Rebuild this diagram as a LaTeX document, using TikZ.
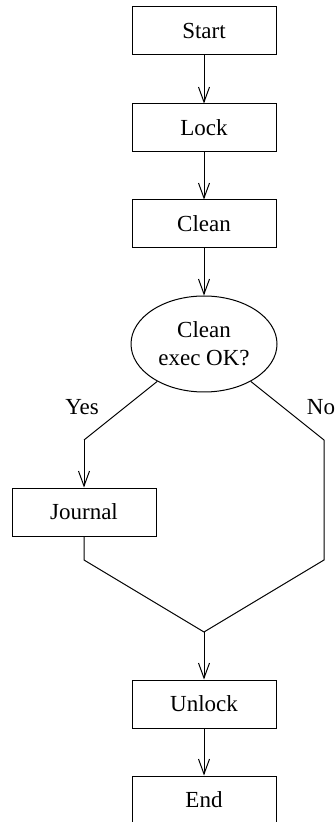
\documentclass[tikz,border=0pt]{standalone}
\usepackage{fontspec}
\setmainfont{Liberation Serif}
\usetikzlibrary{arrows.meta,shapes.geometric}

\begin{document}
\begin{tikzpicture}[x=0.5pt,y=-0.5pt,line width=0.5pt,
  font=\fontsize{11.5}{14}\selectfont,
  stepbox/.style={draw,rectangle,minimum width=72pt,minimum height=24pt,inner sep=0pt},
  testbox/.style={draw,ellipse,minimum width=73pt,minimum height=48pt,inner sep=0pt,align=center},
  flow/.style={-{Straight Barb[length=7.5pt,width=5.5pt]}}]
\useasboundingbox (0,0) rectangle (334,822);

\node[stepbox] (start) at (204,31) {Start};
\node[stepbox] (lock) at (204,128) {Lock};
\node[stepbox] (clean) at (204,224) {Clean};
\node[testbox] (check) at (204,344) {Clean\\exec OK?};
\node[stepbox] (journal) at (84,512) {Journal};
\node[stepbox] (unlock) at (204,704) {Unlock};
\node[stepbox] (stop) at (204,800) {End};

\coordinate (ybend) at (84,440);
\coordinate (ylow) at (84,560);
\coordinate (nbend) at (324,440);
\coordinate (nlow) at (324,560);
\coordinate (join) at (204,632);

\draw[flow] (start) -- (lock);
\draw[flow] (lock) -- (clean);
\draw[flow] (clean) -- (check);

\draw (check) -- (ybend);
\draw[flow] (ybend) -- (journal);
\node (yes) at (82,407) {Yes};
\draw (check) -- (nbend) -- (nlow) -- (join);
\node (no) at (321,407) {No};

\draw (journal) -- (ylow) -- (join);
\draw[flow] (join) -- (unlock);
\draw[flow] (unlock) -- (stop);
\end{tikzpicture}
\end{document}
